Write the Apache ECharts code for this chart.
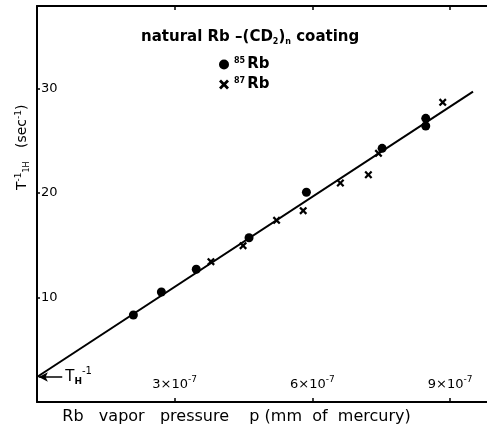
<!DOCTYPE html>
<html>
<head>
<meta charset="utf-8">
<script src="https://cdn.jsdelivr.net/npm/echarts@6/dist/echarts.min.js"></script>
<style>
  html, body { margin: 0; padding: 0; background: #fff; }
  #chart { width: 487px; height: 428px; }
</style>
</head>
<body>
<div id="chart"></div>
<script>
  // pressure in units of 1e-7 mm Hg, rate in sec^-1
  const rb85 = [
    [2.10, 8.33], [2.71, 10.53], [3.47, 12.70], [4.62, 15.72],
    [5.87, 20.07], [7.52, 24.28], [8.47, 27.15], [8.47, 26.41],
  ]
  const rb87 = [
    [3.79, 13.43], [4.49, 14.96], [5.22, 17.39], [5.80, 18.31],
    [6.61, 20.96], [7.22, 21.75], [7.44, 23.80], [8.84, 28.68],
  ]
  const fitLine = [[0, 2.39], [9.5, 29.7]]
  const interceptT = 2.39
  const xTicks = [3, 6, 9]
  const yTicks = [10, 20, 30]

  const font = 'DejaVu Sans'
  const ink = '#000'
  // chunky x, as in the print
  const crossPath = 'path://M0,2L2,0L5,3L8,0L10,2L7,5L10,8L8,10L5,7L2,10L0,8L3,5Z'

  const chart = echarts.init(document.getElementById('chart'))
  chart.setOption({
    animation: false,
    backgroundColor: '#fff',
    // right edge of the frame is cropped off in the original print
    grid: { left: 37, right: -3, top: 6, bottom: 26, outerBoundsMode: 'none', containLabel: false },
    legend: {
      orient: 'vertical',
      left: 214,
      top: 52,
      itemWidth: 10,
      itemHeight: 10,
      itemGap: 5,
      data: ['85Rb', '87Rb'],
      formatter: (name) => '{sup|' + name.slice(0, 2) + '}{b|Rb}',
      textStyle: {
        fontFamily: font,
        color: ink,
        rich: {
          sup: { fontSize: 8, fontWeight: 'bold', verticalAlign: 'top', padding: [0, 2, 6, 0], fontFamily: font },
          b: { fontSize: 15, fontWeight: 'bold', fontFamily: font },
        },
      },
    },
    graphic: [
      {
        type: 'text',
        left: 141,
        top: 30,
        style: {
          text: 'natural Rb –(CD{sub|2}){sub|n} coating',
          font: 'bold 15px "DejaVu Sans"',
          fill: ink,
          rich: {
            sub: { fontSize: 8, fontWeight: 'bold', fontFamily: font, padding: [8, 0, 0, 0] },
          },
        },
      },
      {
        type: 'text',
        x: 14,
        y: 190,
        rotation: Math.PI / 2,
        style: {
          text: 'T{sup|-1}{sub|1H}   (sec{sup|-1})',
          font: '14px "DejaVu Sans"',
          fill: ink,
          rich: {
            sup: { fontSize: 9, fontFamily: font, padding: [0, 0, 8, 0] },
            sub: { fontSize: 8, fontFamily: font, padding: [8, 0, 0, 0] },
          },
        },
      },
    ],
    xAxis: [
      {
        type: 'value',
        min: 0,
        max: 9.87,
        interval: 3,
        name: 'Rb   vapor   pressure    p (mm  of  mercury)',
        nameLocation: 'middle',
        nameGap: 7,
        nameTextStyle: { fontFamily: font, fontSize: 16, color: ink, padding: [0, 54, 0, 0] },
        axisLine: { onZero: false, lineStyle: { color: ink, width: 2 } },
        axisTick: { inside: true, length: 4, lineStyle: { color: ink, width: 1.5 } },
        splitLine: { show: false },
        axisLabel: {
          inside: true,
          margin: 8,
          showMinLabel: false,
          formatter: (v) => (xTicks.includes(v) ? v + '×10{sup|-7}' : ''),
          fontFamily: font,
          fontSize: 13,
          color: ink,
          rich: { sup: { fontSize: 9, fontFamily: font, padding: [0, 0, 10, 0], color: ink } },
        },
      },
      {
        type: 'value',
        position: 'top',
        min: 0,
        max: 9.87,
        interval: 3,
        axisLine: { show: true, onZero: false, lineStyle: { color: ink, width: 2 } },
        axisTick: { inside: true, length: 4, lineStyle: { color: ink, width: 1.5 } },
        axisLabel: { show: false },
        splitLine: { show: false },
      },
    ],
    yAxis: [
      {
        type: 'value',
        position: 'left',
        min: 0,
        max: 37.9,
        interval: 10,
        axisLine: { show: true, lineStyle: { color: ink, width: 2 } },
        axisTick: { inside: true, length: 3, lineStyle: { color: ink, width: 1.5 } },
        splitLine: { show: false },
        axisLabel: {
          inside: true,
          margin: 4,
          formatter: (v) => (yTicks.includes(v) ? String(v) : ''),
          fontFamily: font,
          fontSize: 13,
          color: ink,
        },
      },
    ],
    series: [
      {
        name: 'fit',
        type: 'line',
        data: fitLine,
        showSymbol: false,
        lineStyle: { color: ink, width: 2 },
        z: 1,
        markLine: {
          silent: true,
          symbol: ['none', 'arrow'],
          symbolSize: [7, 9],
          lineStyle: { color: ink, width: 1.5, type: 'solid' },
          label: {
            position: 'start',
            distance: 3,
            formatter: 'T{sub|H}{sup|-1}',
            fontFamily: font,
            fontSize: 15,
            color: ink,
            rich: {
              sub: { fontSize: 9, fontWeight: 'bold', fontFamily: font, padding: [10, 0, 0, 0], color: ink },
              sup: { fontSize: 10, fontFamily: font, padding: [0, 0, 12, 0], color: ink },
            },
          },
          data: [[{ coord: [0.55, interceptT] }, { coord: [0.04, interceptT] }]],
        },
      },
      {
        name: '85Rb',
        type: 'scatter',
        data: rb85,
        symbol: 'circle',
        symbolSize: 9,
        itemStyle: { color: ink, opacity: 1 },
        z: 3,
      },
      {
        name: '87Rb',
        type: 'scatter',
        data: rb87,
        symbol: crossPath,
        symbolSize: 8,
        itemStyle: { color: ink, opacity: 1 },
        z: 3,
      },
    ],
  })
</script>
</body>
</html>
